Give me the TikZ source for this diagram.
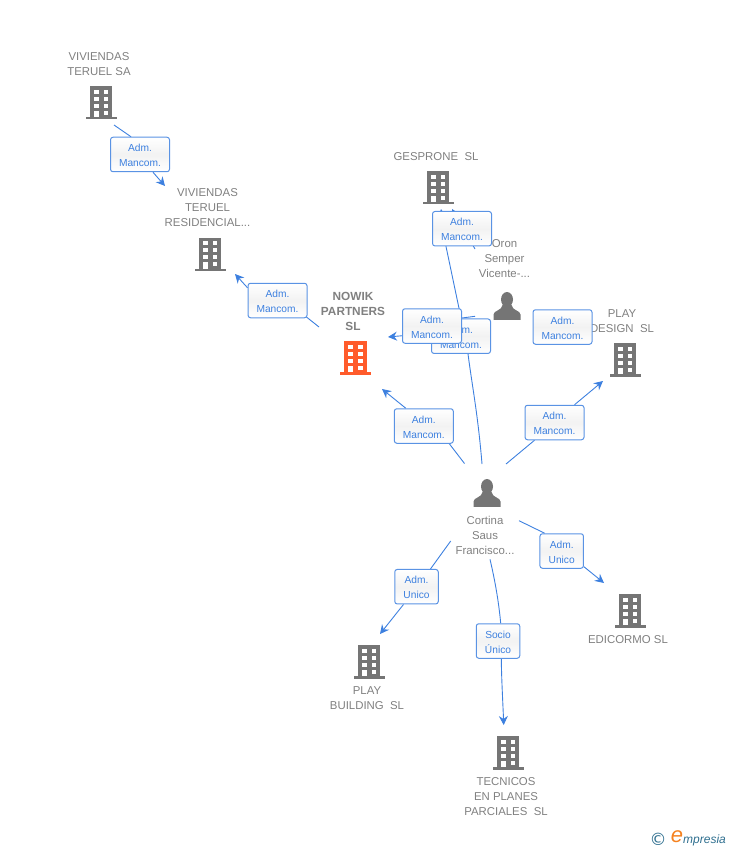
\documentclass[tikz,border=0pt]{standalone}
\usepackage{fontspec}
\setmainfont{Liberation Sans}
\newfontfamily\dejavu{DejaVu Sans}
\usetikzlibrary{arrows.meta,backgrounds}
\definecolor{txtgrey}{HTML}{808080}
\definecolor{icongrey}{HTML}{757575}
\definecolor{linkblue}{HTML}{3D80DF}
\definecolor{hotorange}{HTML}{FF5B2B}
\definecolor{logoteal}{HTML}{2F6F8F}
\definecolor{logoorange}{HTML}{F58220}
\tikzset{
  x=1pt,y=-1pt,
  lbl/.style={align=center,text=txtgrey,font=\fontsize{11.4}{15}\selectfont,inner sep=0pt},
  boldlbl/.style={lbl,font=\fontsize{11.8}{15}\selectfont\bfseries},
  rel/.style={draw=linkblue!85!white,line width=1pt,rounded corners=2.5pt,top color=white,bottom color=white,middle color=black!5,
    text=linkblue,font=\fontsize{10.2}{15}\selectfont,align=center,inner sep=0pt,minimum height=34.5pt,
    text height=24pt,text depth=0pt},
  wide/.style={rel,minimum width=59pt},
  mid/.style={rel,minimum width=43.5pt},
  conn/.style={draw=linkblue,line width=0.9pt},
  arr/.style={conn,-{Stealth[length=9pt,width=9pt,inset=3pt]}},
  pics/bld/.style={code={
    \fill[#1] (-11.3,-16) rectangle (11.3,15);
    \fill[#1] (-15.5,15) rectangle (15.5,17.5);
    \foreach \yy in {-12.2,-5.2,1.8}{
      \fill[white] (-7.3,\yy) rectangle (-2.5,\yy+4);
      \fill[white] (2.5,\yy) rectangle (7.3,\yy+4);}
    \fill[white] (-7.3,8.6) rectangle (-2.5,15);
    \fill[white] (2.5,8.6) rectangle (7.3,12.8);
  }},
  pics/psn/.style={code={
    \fill[icongrey] (0,-6.5) ellipse (6 and 7.5);
    \fill[icongrey] (-13.5,13.8) -- (-13.5,8.5) .. controls (-13.5,4.5) and (-5,4.5) .. (-4.5,-1) -- (4.5,-1)
       .. controls (5,4.5) and (13.5,4.5) .. (13.5,8.5) -- (13.5,13.8) -- cycle;
  }}
}
\begin{document}
\begin{tikzpicture}
\useasboundingbox (0,0) rectangle (728,850);
% icons
\pic at (101,102) {bld=icongrey};
\pic at (210,253.5) {bld=icongrey};
\pic at (438,187) {bld=icongrey};
\pic at (625,359) {bld=icongrey};
\pic at (355.5,357) {bld=hotorange};
\pic at (630,610) {bld=icongrey};
\pic at (369,661) {bld=icongrey};
\pic at (508,752) {bld=icongrey};
\pic at (507,306) {psn};
\pic at (487,493) {psn};
% names
\node[lbl] (vtsa) at (99,64.3) {VIVIENDAS\\TERUEL SA};
\node[lbl] (vtr) at (207.5,207.8) {VIVIENDAS\\TERUEL\\RESIDENCIAL...};
\node[lbl] (ges) at (436,156.8) {GESPRONE\ \ SL};
\node[lbl] (oron) at (504.5,258.8) {Oron\\Semper\\Vicente-...};
\node[lbl] (pld) at (622,321.3) {PLAY\\DESIGN\ \ SL};
\node[boldlbl] (now) at (353,311.8) {NOWIK\\PARTNERS\\SL};
\node[lbl] (cor) at (485,535.8) {Cortina\\Saus\\Francisco...};
\node[lbl] (plb) at (367,698.3) {PLAY\\BUILDING\ \ SL};
\node[lbl] (edi) at (628,639.8) {EDICORMO SL};
\node[lbl] (tec) at (506,796.8) {TECNICOS\\EN PLANES\\PARCIALES\ \ SL};
% relation boxes
\node[wide] (r1) at (140,154.5) {Adm.\\Mancom.};
\node[wide] (r2) at (277.5,300.5) {Adm.\\Mancom.};
\node[wide] (r3) at (462,228.7) {Adm.\\Mancom.};
\node[wide] (r4) at (461,336.2) {Adm.\\Mancom.};
\node[wide] (r5) at (432,326) {Adm.\\Mancom.};
\node[wide] (r6) at (562.5,327) {Adm.\\Mancom.};
\node[wide] (r7) at (423.8,426) {Adm.\\Mancom.};
\node[wide] (r8) at (554.5,422.5) {Adm.\\Mancom.};
\node[mid] (r9) at (561.7,551) {Adm.\\Unico};
\node[mid] (r10) at (416.5,586.7) {Adm.\\Unico};
\node[mid] (r11) at (498,641) {Socio\\Único};
% free ends
\coordinate (a1) at (114,125);
\coordinate (a2) at (165,186);
\coordinate (b1) at (319,327);
\coordinate (b2) at (235,274);
\coordinate (c1) at (482,464);
\coordinate (c2) at (441,209);
\coordinate (d1) at (475,249);
\coordinate (d2) at (452,209);
\coordinate (e1) at (475,316.3);
\coordinate (e2) at (388,337);
\coordinate (f1) at (464.5,463.5);
\coordinate (f2) at (382,389);
\coordinate (g1) at (506,464);
\coordinate (g2) at (603,381);
\coordinate (h1) at (519,520.7);
\coordinate (h2) at (604,583);
\coordinate (i1) at (450.7,541);
\coordinate (i2) at (380,634);
\coordinate (j1) at (490,559.3);
\coordinate (j2) at (503.7,725);
\begin{scope}[on background layer]
\draw[conn] (a1) -- ([xshift=-9pt]r1.north);
\draw[arr] ([xshift=13pt]r1.south) -- (a2);
\draw[conn] (b1) -- ([xshift=-2pt,yshift=2pt]r2.south east);
\draw[arr] ([yshift=-5pt]r2.north west) -- (b2);
\draw[conn] (c1) .. controls (478,415) and (472,385) .. ([xshift=7pt]r4.south);
\draw[conn] ([xshift=7pt]r4.south) -- ([xshift=27pt]r5.north);
\draw[arr] ([xshift=27pt]r5.north) -- ([xshift=-16pt]r3.south) -- (c2);
\draw[arr] (d1) -- (d2);
\draw[conn] (e1) -- ([yshift=8pt]r5.east);
\draw[arr] ([yshift=8pt]r5.south west) -- (e2);
\draw[conn] (f1) -- ([xshift=25.5pt]r7.south);
\draw[arr] ([xshift=-18pt]r7.north) -- (f2);
\draw[conn] (g1) -- ([xshift=-20pt]r8.south);
\draw[arr] ([xshift=20pt]r8.north) -- (g2);
\draw[conn] (h1) -- ([xshift=-17pt]r9.north);
\draw[arr] ([yshift=2pt]r9.south east) -- (h2);
\draw[conn] (i1) -- ([xshift=14pt]r10.north);
\draw[arr] ([xshift=-13pt]r10.south) -- (i2);
\draw[conn] (j1) .. controls (496,585) and (499,605) .. ([xshift=2.7pt]r11.north);
\draw[arr] ([xshift=3.3pt]r11.south) .. controls (501.5,680) and (503,705) .. (j2);
\end{scope}
% logo
\node[inner sep=0pt,text=logoteal,font=\dejavu\fontsize{17}{17}\selectfont] (copy) at (658,839) {©};
\node[inner sep=0pt,text=logoorange,font=\fontsize{22}{22}\selectfont\itshape] (loge) at (677,837) {e};
\node[inner sep=0pt,anchor=west,text=logoteal,font=\fontsize{12}{12}\selectfont\itshape] (logt) at (683,840) {mpresia};
\end{tikzpicture}
\end{document}
